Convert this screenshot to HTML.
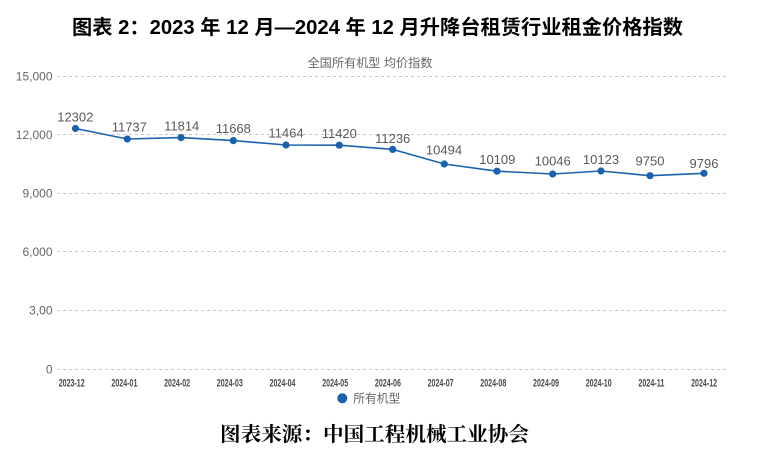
<!DOCTYPE html>
<html>
<head>
<meta charset="utf-8">
<style>
html,body{margin:0;padding:0;background:#fff;}
svg{display:block;}
</style>
</head>
<body>
<svg width="781" height="454" viewBox="0 0 781 454" xmlns="http://www.w3.org/2000/svg">
<rect width="781" height="454" fill="#fff"/>
<!-- Title -->
<text x="72" y="34" textLength="611" lengthAdjust="spacingAndGlyphs" font-family="'Liberation Sans','Noto Sans CJK SC',sans-serif" font-weight="bold" font-size="20" fill="#000">图表 2：2023 年 12 月—2024 年 12 月升降台租赁行业租金价格指数</text>
<!-- Subtitle -->
<text x="307.5" y="67" textLength="125" lengthAdjust="spacingAndGlyphs" font-family="'Liberation Sans','Noto Sans CJK SC',sans-serif" font-size="12" fill="#666">全国所有机型  均价指数</text>
<!-- Grid -->
<g stroke="#c8c8c8" stroke-width="1" stroke-dasharray="3,3">
<line x1="57" y1="76.5" x2="728" y2="76.5"/>
<line x1="57" y1="134.5" x2="728" y2="134.5"/>
<line x1="57" y1="193.5" x2="728" y2="193.5"/>
<line x1="57" y1="251.5" x2="728" y2="251.5"/>
<line x1="57" y1="310.5" x2="728" y2="310.5"/>
<line x1="57" y1="369.5" x2="728" y2="369.5"/>
</g>
<!-- Y labels -->
<g font-family="'Liberation Sans',sans-serif" font-size="12" fill="#666" text-anchor="end">
<text x="52.5" y="80.5">15,000</text>
<text x="52.5" y="138.8">12,000</text>
<text x="52.5" y="197.5">9,000</text>
<text x="52.5" y="256">6,000</text>
<text x="52.5" y="314.6">3,00</text>
<text x="52.5" y="373.3">0</text>
</g>
<!-- X labels -->
<g font-family="'Liberation Sans',sans-serif" font-size="11" font-weight="bold" fill="#4a4a4a" text-anchor="middle">
<text x="71.7" y="386.5" textLength="26" lengthAdjust="spacingAndGlyphs">2023-12</text>
<text x="124.4" y="386.5" textLength="26" lengthAdjust="spacingAndGlyphs">2024-01</text>
<text x="177.1" y="386.5" textLength="26" lengthAdjust="spacingAndGlyphs">2024-02</text>
<text x="229.8" y="386.5" textLength="26" lengthAdjust="spacingAndGlyphs">2024-03</text>
<text x="282.5" y="386.5" textLength="26" lengthAdjust="spacingAndGlyphs">2024-04</text>
<text x="335.2" y="386.5" textLength="26" lengthAdjust="spacingAndGlyphs">2024-05</text>
<text x="387.9" y="386.5" textLength="26" lengthAdjust="spacingAndGlyphs">2024-06</text>
<text x="440.6" y="386.5" textLength="26" lengthAdjust="spacingAndGlyphs">2024-07</text>
<text x="493.3" y="386.5" textLength="26" lengthAdjust="spacingAndGlyphs">2024-08</text>
<text x="546.0" y="386.5" textLength="26" lengthAdjust="spacingAndGlyphs">2024-09</text>
<text x="598.7" y="386.5" textLength="26" lengthAdjust="spacingAndGlyphs">2024-10</text>
<text x="651.4" y="386.5" textLength="26" lengthAdjust="spacingAndGlyphs">2024-11</text>
<text x="704.1" y="386.5" textLength="26" lengthAdjust="spacingAndGlyphs">2024-12</text>
</g>
<!-- Line -->
<polyline fill="none" stroke="#1a62ad" stroke-width="1.6" stroke-linejoin="round"
points="75.5,128.5 127.3,139 181,137.6 233.3,140.6 286,145 339.3,145.2 392.7,149.4 444.3,164 497,171.2 552.7,174 601,171 650,175.7 704,173.3"/>
<g fill="#1a62ad">
<circle cx="75.5" cy="128.5" r="3.6"/>
<circle cx="127.3" cy="139" r="3.6"/>
<circle cx="181" cy="137.6" r="3.6"/>
<circle cx="233.3" cy="140.6" r="3.6"/>
<circle cx="286" cy="145" r="3.6"/>
<circle cx="339.3" cy="145.2" r="3.6"/>
<circle cx="392.7" cy="149.4" r="3.6"/>
<circle cx="444.3" cy="164" r="3.6"/>
<circle cx="497" cy="171.2" r="3.6"/>
<circle cx="552.7" cy="174" r="3.6"/>
<circle cx="601" cy="171" r="3.6"/>
<circle cx="650" cy="175.7" r="3.6"/>
<circle cx="704" cy="173.3" r="3.6"/>
</g>
<!-- Data labels -->
<g font-family="'Liberation Sans',sans-serif" font-size="13" fill="#595959" text-anchor="middle">
<text x="75.3" y="121.3">12302</text>
<text x="129.3" y="131.6">11737</text>
<text x="181.7" y="130.3">11814</text>
<text x="233.3" y="132.9">11668</text>
<text x="286" y="137.6">11464</text>
<text x="339.3" y="137.9">11420</text>
<text x="392.7" y="142.9">11236</text>
<text x="444" y="154.6">10494</text>
<text x="497.3" y="163.9">10109</text>
<text x="552.7" y="165.3">10046</text>
<text x="601" y="163.9">10123</text>
<text x="650" y="165.3">9750</text>
<text x="704" y="167.9">9796</text>
</g>
<!-- Legend -->
<circle cx="342.3" cy="398.3" r="5" fill="#1a62ad"/>
<text x="353.3" y="402.6" textLength="47" lengthAdjust="spacingAndGlyphs" font-family="'Liberation Sans','Noto Sans CJK SC',sans-serif" font-size="12" fill="#666">所有机型</text>
<!-- Source -->
<text x="220" y="441" textLength="309" lengthAdjust="spacingAndGlyphs" font-family="'Liberation Serif','Noto Serif CJK SC',serif" font-weight="bold" font-size="20" fill="#000">图表来源：中国工程机械工业协会</text>
</svg>
</body>
</html>
